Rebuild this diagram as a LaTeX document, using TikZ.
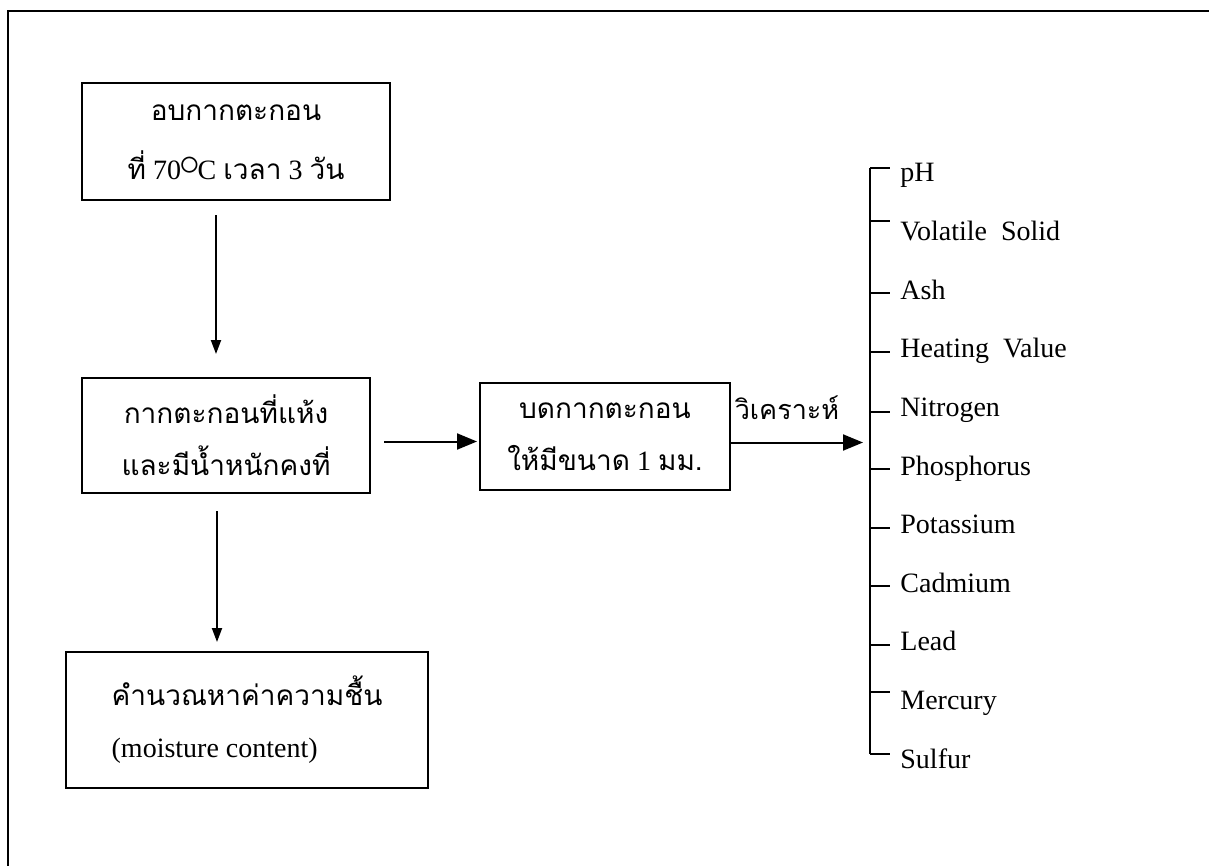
\documentclass[tikz,border=0pt]{standalone}
\usepackage{fontspec}
\setmainfont{Liberation Serif}
\newfontfamily\thai[Script=Thai,Scale=1.0]{Loma}
\usetikzlibrary{arrows.meta}

\newcommand{\degc}{\smash{\raisebox{2pt}{\fontsize{22}{22}\selectfont$\circ$}}}

\begin{document}
\begin{tikzpicture}[x=0.5pt,y=-0.5pt,
  box/.style={draw,line width=1pt,inner sep=0pt,align=center,font=\fontsize{14}{26}\selectfont},
  flow/.style={-{Triangle[length=10pt,width=8pt]},line width=1pt},
  vflow/.style={-{Triangle[length=7pt,width=5pt]},line width=1pt},
  item/.style={anchor=base west,inner sep=0pt,font=\fontsize{14}{16}\selectfont}]
\useasboundingbox (0,0) rectangle (1209,866);
% frame
\draw[line width=1.3pt] (1209,11) -- (8,11) -- (8,866);

\node[box,minimum width=154pt,minimum height=58.5pt,font=\fontsize{14}{29.5}\selectfont] (dry) at (236,142)
  {{\thai อบกากตะกอน}\\{\thai ที่} 70\kern-1pt\degc\kern-1pt C {\thai เวลา} 3 {\thai วัน}};
\node[box,minimum width=144pt,minimum height=57.5pt] (sed) at (226,435.5)
  {{\thai กากตะกอนที่แห้ง}\\{\thai และมีน้ำหนักคงที่}};
\node[box,minimum width=125pt,minimum height=53.5pt] (grind) at (605,436.5)
  {{\thai บดกากตะกอน}\\{\thai ให้มีขนาด} 1 {\thai มม.}};
\node[box,align=left,minimum width=181pt,minimum height=68pt] (moist) at (247,720)
  {{\thai คำนวณหาค่าความชื้น}\\(moisture content)};
\node[inner sep=0pt,font=\fontsize{13.5}{16}\selectfont] (lbl) at (787,408) {\thai วิเคราะห์};
\coordinate (br) at (870,168);

% arrows
\draw[vflow,shorten <=7pt,shorten >=11.5pt] ([xshift=-10pt]dry.south) -- ([xshift=-5pt]sed.north);
\draw[vflow,shorten <=8.5pt,shorten >=4.5pt] ([xshift=-4.5pt]sed.south) -- ([xshift=-15pt]moist.north);
\draw[flow,shorten <=6.5pt,shorten >=1pt] ([yshift=-3pt]sed.east) -- ([yshift=-3pt]sed.east -| grind.west);
\draw[flow,shorten >=3.5pt] ([yshift=-3pt]grind.east) -- ([yshift=-3pt]grind.east -| br);

% list of analyses
\foreach \txt/\dy [count=\i from 0] in {pH/14,Volatile\ \ Solid/20,Ash/6,Heating\ \ Value/6,
    Nitrogen/4,Phosphorus/6,Potassium/6,Cadmium/6,Lead/6,Mercury/17,Sulfur/14}{
  \node[item] (p\i) at (900,{182+58.6*\i}) {\txt};
  \draw[line width=1pt] ([shift={(-30,-\dy)}]p\i.base west) -- ++(20,0);
}
\draw[line width=1pt] (br) -- (br |- 0,754);
\end{tikzpicture}
\end{document}
